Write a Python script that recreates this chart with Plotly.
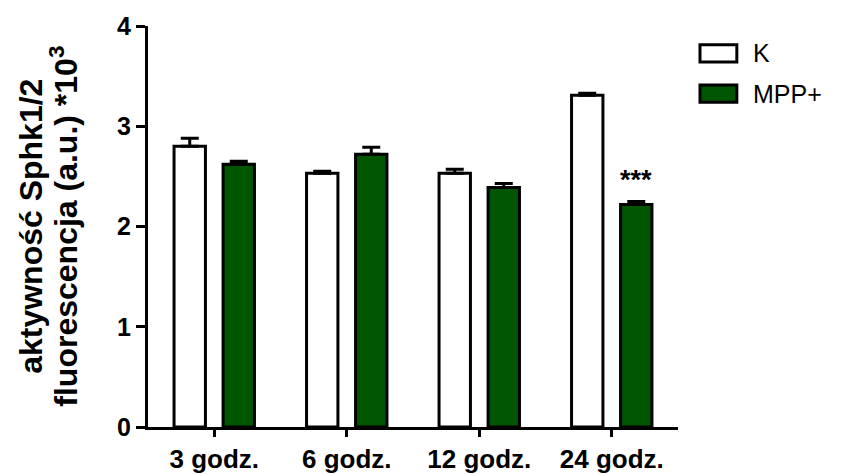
import plotly.graph_objects as go

# Sphk1/2 activity, fluorescence (a.u.) x10^3, mean with upper SEM
time_points = ["3 godz.", "6 godz.", "12 godz.", "24 godz."]
k_values = [2.80, 2.53, 2.53, 3.31]
k_errors = [0.08, 0.02, 0.04, 0.02]
mpp_values = [2.62, 2.72, 2.39, 2.22]
mpp_errors = [0.03, 0.07, 0.04, 0.03]
significance = ["", "", "", "***"]

series_names = ["K", "MPP+"]
series_colors = ["#ffffff", "#005500"]
y_ticks = [0, 1, 2, 3, 4]
y_title_lines = ["aktywność Sphk1/2", "fluorescencja (a.u.) *10<sup>3</sup>"]

FONT = "Liberation Sans, Arial, sans-serif"
BARGAP = 0.26
BARGROUPGAP = 0.36

fig = go.Figure()
for name, vals, errs, color in zip(series_names, [k_values, mpp_values],
                                   [k_errors, mpp_errors], series_colors):
    fig.add_trace(go.Bar(
        x=time_points, y=vals, name=name,
        marker=dict(color=color, line=dict(color="black", width=3)),
        error_y=dict(type="data", array=errs, arrayminus=[0] * len(errs),
                     symmetric=False, color="black", thickness=3, width=9),
        showlegend=False,
    ))

fig.update_layout(
    barmode="group", bargap=BARGAP, bargroupgap=BARGROUPGAP,
    width=853, height=474,
    margin=dict(l=148, r=175, t=26, b=47, autoexpand=False),
    plot_bgcolor="white", paper_bgcolor="white",
    font=dict(family=FONT, color="black"),
)

fig.update_xaxes(
    type="category", range=[-0.5, 3.5], automargin=False,
    showline=True, linecolor="black", linewidth=3,
    ticks="outside", ticklen=7, tickwidth=3, tickcolor="black",
    tickfont=dict(size=26, family=FONT, weight="bold"),
    showgrid=False, zeroline=False,
)
fig.update_yaxes(
    range=[0, 4], tickvals=y_ticks, automargin=False,
    showline=True, linecolor="black", linewidth=3,
    ticks="outside", ticklen=9, tickwidth=3, tickcolor="black",
    tickfont=dict(size=25, family=FONT, weight="bold"),
    showgrid=False, zeroline=False,
)

# y-axis title, one annotation per line for tight line spacing
for x_pos, line in zip([-0.222, -0.160], y_title_lines):
    fig.add_annotation(
        xref="paper", yref="paper", x=x_pos, y=0.5,
        xanchor="center", yanchor="middle", textangle=-90,
        text=line, showarrow=False,
        font=dict(size=32, family=FONT, weight="bold"),
    )

# significance marks above the MPP+ bars
slot = (1 - BARGAP) / 2
for i, mark in enumerate(significance):
    if mark:
        fig.add_annotation(
            x=i + slot / 2, y=mpp_values[i] + mpp_errors[i],
            xref="x", yref="y", text=mark, showarrow=False,
            yanchor="bottom", yshift=4,
            font=dict(size=27, family=FONT, weight="bold"),
        )

# legend keys
for j, (name, color) in enumerate(zip(series_names, series_colors)):
    y_top = 0.953 - j * 0.1
    fig.add_shape(
        type="rect", xref="paper", yref="paper",
        x0=1.0415, x1=1.111, y0=y_top - 0.043, y1=y_top,
        fillcolor=color, line=dict(color="black", width=3),
    )
    fig.add_annotation(
        xref="paper", yref="paper", x=1.137, y=y_top - 0.0215,
        xanchor="left", yanchor="middle", text=name, showarrow=False,
        font=dict(size=25, family=FONT),
    )

fig.write_html("out.html")
